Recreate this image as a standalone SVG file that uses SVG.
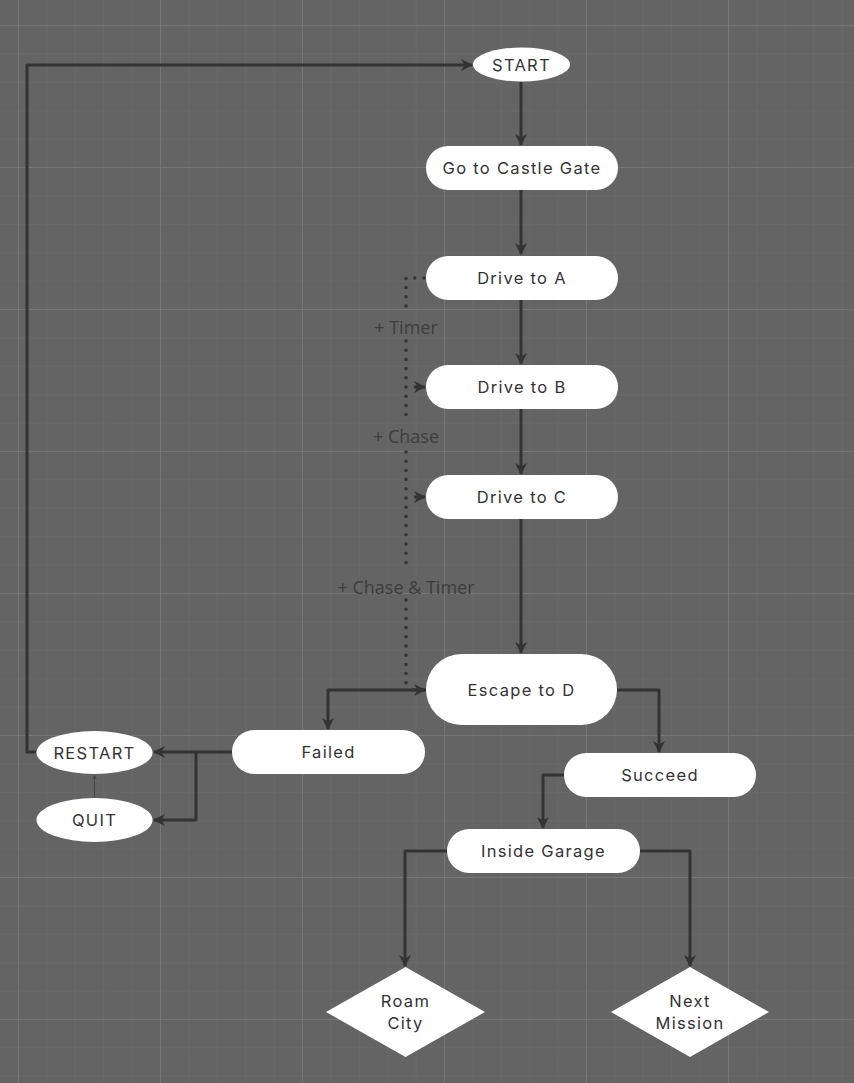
<svg xmlns="http://www.w3.org/2000/svg" width="854" height="1083" viewBox="0 0 854 1083">
<defs>
<pattern id="minor" patternUnits="userSpaceOnUse" x="18" y="25" width="28.4" height="28.4">
<path d="M0,0 V28.4 M0,0 H28.4" stroke="#6d6d6d" stroke-width="1" fill="none"/>
</pattern>
<pattern id="major" patternUnits="userSpaceOnUse" x="18" y="25" width="142" height="142">
<path d="M0,0 V142 M0,0 H142" stroke="#7c7c7c" stroke-width="1.5" fill="none"/>
</pattern>
<marker id="arr" viewBox="0 0 12 12" refX="11" refY="6" markerWidth="12" markerHeight="12" markerUnits="userSpaceOnUse" orient="auto">
<path d="M0,0 L12,6 L0,12 L3.5,6 Z" fill="#333333"/>
</marker>
<marker id="arrs" viewBox="0 0 12 12" refX="11" refY="6" markerWidth="5" markerHeight="5" markerUnits="userSpaceOnUse" orient="auto">
<path d="M0,0 L12,6 L0,12 L3.5,6 Z" fill="#444444"/>
</marker>
</defs>
<style>
.node{fill:#ffffff;}
.t{font-family:Inter,"Noto Sans",sans-serif;font-size:16.5px;letter-spacing:1.3px;fill:#333333;text-anchor:middle;dominant-baseline:central;}
.c{fill:none;stroke:#333333;stroke-width:3;stroke-linejoin:round;}
.d{fill:none;stroke:#333333;stroke-width:3.5;stroke-linecap:round;stroke-dasharray:0 9.2;}
.lbl{font-family:"Open Sans","Noto Sans",sans-serif;font-size:18px;fill:#3d3d3d;text-anchor:middle;}
</style>
<rect width="854" height="1083" fill="#646464"/>
<rect width="854" height="1083" fill="url(#minor)"/>
<rect width="854" height="1083" fill="url(#major)"/>

<g id="connectors">
<path class="c" d="M521,82 V145" marker-end="url(#arr)"/>
<path class="c" d="M521,190 V254" marker-end="url(#arr)"/>
<path class="c" d="M521,300 V364" marker-end="url(#arr)"/>
<path class="c" d="M521,409 V474" marker-end="url(#arr)"/>
<path class="c" d="M521,519 V653" marker-end="url(#arr)"/>
<path class="c" d="M36,752 H27 V65 H472" marker-end="url(#arr)"/>
<path class="c" d="M426,690 H328 V729" marker-end="url(#arr)"/>
<path class="c" d="M617,690 H659 V752" marker-end="url(#arr)"/>
<path class="c" d="M232,752 H154" marker-end="url(#arr)"/>
<path class="c" d="M196,752 V820 H154" marker-end="url(#arr)"/>
<path d="M94.5,798 V775" fill="none" stroke="#444444" stroke-width="1" marker-end="url(#arrs)"/>
<path class="c" d="M564,775 H543 V828" marker-end="url(#arr)"/>
<path class="c" d="M447,851 H405 V966" marker-end="url(#arr)"/>
<path class="c" d="M640,851 H690 V966" marker-end="url(#arr)"/>
<g id="dotted">
<path class="d" d="M424,278 H406 V313"/>
<path class="d" d="M406,341 V423"/>
<path class="d" d="M406,452 V570"/>
<path class="d" d="M406,600 V690"/>
<path class="c" d="M414,387 H425" marker-end="url(#arr)"/>
<path class="c" d="M414,497 H425" marker-end="url(#arr)"/>
<path class="c" d="M412,690 H425" marker-end="url(#arr)"/>
</g>
<text class="lbl" x="406" y="334">+ Timer</text>
<text class="lbl" x="406" y="443">+ Chase</text>
<text class="lbl" x="406" y="594">+ Chase &amp; Timer</text>
</g>

<g id="start"><ellipse class="node" cx="521.5" cy="64.5" rx="48.5" ry="17"/><text class="t" x="521.5" y="64.5">START</text></g>
<g id="castle"><rect class="node" x="426" y="146" width="192" height="44" rx="22"/><text class="t" x="522" y="168">Go to Castle Gate</text></g>
<g id="driveA"><rect class="node" x="426" y="256" width="192" height="44" rx="22"/><text class="t" x="522" y="278">Drive to A</text></g>
<g id="driveB"><rect class="node" x="426" y="365" width="192" height="44" rx="22"/><text class="t" x="522" y="387">Drive to B</text></g>
<g id="driveC"><rect class="node" x="426" y="475" width="192" height="44" rx="22"/><text class="t" x="522" y="497">Drive to C</text></g>
<g id="escape"><rect class="node" x="426" y="654" width="191" height="71" rx="35.5"/><text class="t" x="521.5" y="690">Escape to D</text></g>
<g id="failed"><rect class="node" x="232" y="730" width="193" height="44" rx="22"/><text class="t" x="328.5" y="752">Failed</text></g>
<g id="restart"><ellipse class="node" cx="94.5" cy="752.5" rx="58" ry="21.5"/><text class="t" x="94.5" y="752.5">RESTART</text></g>
<g id="quit"><ellipse class="node" cx="94.5" cy="820" rx="58" ry="22"/><text class="t" x="94.5" y="820">QUIT</text></g>
<g id="succeed"><rect class="node" x="564" y="753" width="192" height="44" rx="22"/><text class="t" x="660" y="775">Succeed</text></g>
<g id="garage"><rect class="node" x="447" y="829" width="193" height="44" rx="22"/><text class="t" x="543.5" y="851">Inside Garage</text></g>
<g id="roam"><polygon class="node" points="405.5,967 485,1012 405.5,1057 326,1012"/><text class="t" x="405.5" y="1001">Roam</text><text class="t" x="405.5" y="1023">City</text></g>
<g id="next"><polygon class="node" points="690,967 769,1012 690,1057 611,1012"/><text class="t" x="690" y="1001">Next</text><text class="t" x="690" y="1023">Mission</text></g>
</svg>
